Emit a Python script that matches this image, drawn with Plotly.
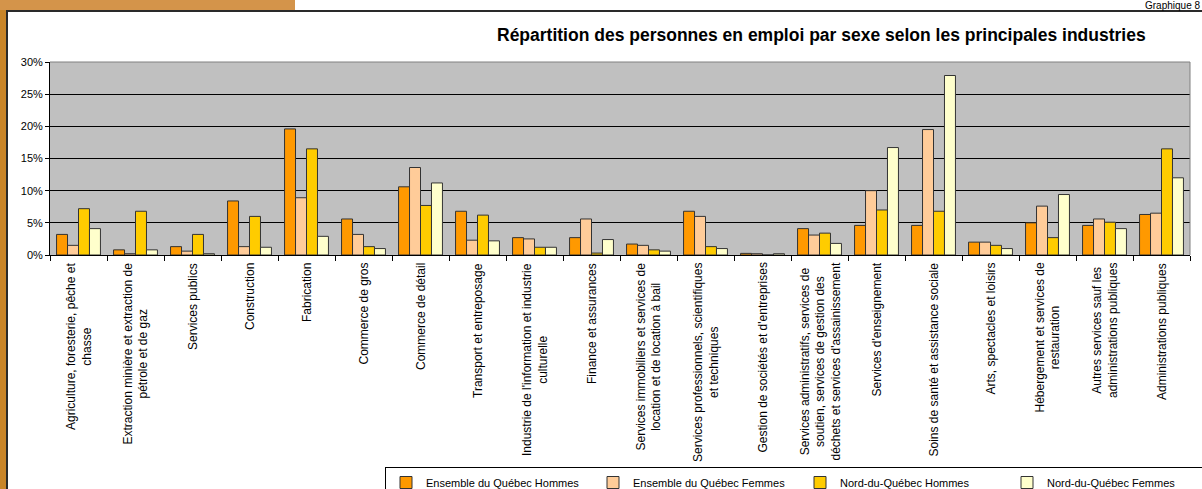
import plotly.graph_objects as go

categories = [
    "Agriculture, foresterie, pêche et<br>chasse",
    "Extraction minière et extraction de<br>pétrole et de gaz",
    "Services publics",
    "Construction",
    "Fabrication",
    "Commerce de gros",
    "Commerce de détail",
    "Transport et entreposage",
    "Industrie de l'information et industrie<br>culturelle",
    "Finance et assurances",
    "Services immobiliers et services de<br>location et de location à bail",
    "Services professionnels, scientifiques<br>et techniques",
    "Gestion de sociétés et d'entreprises",
    "Services administratifs, services de<br>soutien, services de gestion des<br>déchets et services d'assainissement",
    "Services d'enseignement",
    "Soins de santé et assistance sociale",
    "Arts, spectacles et loisirs",
    "Hébergement et services de<br>restauration",
    "Autres services sauf les<br>administrations publiques",
    "Administrations publiques",
]

quebec_hommes = [3.2, 0.8, 1.3, 8.4, 19.6, 5.6, 10.6, 6.8, 2.7, 2.7, 1.7, 6.8, 0.25, 4.1, 4.6, 4.6, 2.0, 5.0, 4.6, 6.3]
quebec_femmes = [1.5, 0.2, 0.6, 1.3, 8.9, 3.2, 13.6, 2.3, 2.5, 5.6, 1.5, 6.0, 0.2, 3.1, 10.0, 19.5, 2.0, 7.6, 5.6, 6.5]
nord_hommes = [7.2, 6.8, 3.2, 6.0, 16.5, 1.3, 7.7, 6.2, 1.2, 0.3, 0.8, 1.3, 0.0, 3.4, 7.0, 6.8, 1.5, 2.7, 5.1, 16.5]
nord_femmes = [4.1, 0.8, 0.2, 1.2, 2.9, 1.0, 11.2, 2.2, 1.2, 2.4, 0.6, 1.0, 0.2, 1.8, 16.7, 27.9, 1.0, 9.4, 4.1, 12.0]

series_names = ["Ensemble du Québec Hommes", "Ensemble du Québec Femmes",
                "Nord-du-Québec Hommes", "Nord-du-Québec Femmes"]
series_values = [quebec_hommes, quebec_femmes, nord_hommes, nord_femmes]
series_colors = ["#FF9900", "#FFCC99", "#FFCC00", "#FFFFCC"]

y_ticks = [0, 5, 10, 15, 20, 25, 30]
y_tick_labels = ["0%", "5%", "10%", "15%", "20%", "25%", "30%"]

FONT = "Arial, Liberation Sans, sans-serif"

fig = go.Figure()
for name, vals, col in zip(series_names, series_values, series_colors):
    fig.add_trace(go.Bar(
        x=categories, y=vals, name=name,
        marker=dict(color=col, line=dict(color="#333333", width=1)),
    ))

W, H = 1202, 489
ml, mr, mt, mb = 50, 12, 62, 234


def px_x(p):
    return (p - ml) / (W - ml - mr)


def px_y(p):
    return (H - mb - p) / (H - mt - mb)


fig.update_layout(
    width=W, height=H,
    margin=dict(l=ml, r=mr, t=mt, b=mb, pad=0, autoexpand=False),
    paper_bgcolor="white",
    plot_bgcolor="#C0C0C0",
    barmode="group",
    bargap=0.23,
    bargroupgap=0,
    font=dict(family=FONT, size=11, color="black"),
    showlegend=True,
    legend=dict(
        orientation="h",
        x=px_x(385), xanchor="left",
        y=px_y(467), yanchor="top",
        bgcolor="white", bordercolor="black", borderwidth=1,
        font=dict(family=FONT, size=11, color="black"),
        entrywidth=162, entrywidthmode="pixels",
        itemwidth=30,
        traceorder="normal",
    ),
)

fig.add_annotation(
    x=px_x(821), xref="paper", y=px_y(35), yref="paper",
    xanchor="center", yanchor="middle", showarrow=False,
    text="<b>Répartition des personnes en emploi par sexe selon les principales industries</b>",
    font=dict(family=FONT, size=17.5, color="black"),
)

fig.update_xaxes(
    type="category",
    showticklabels=False,
    ticks="outside", ticklen=5, tickcolor="black",
    tickson="boundaries",
    showline=True, linecolor="black", linewidth=1,
    showgrid=False,
)
fig.update_yaxes(
    range=[0, 30],
    tickvals=y_ticks, ticktext=y_tick_labels,
    ticks="outside", ticklen=4, tickcolor="black",
    showline=True, linecolor="black", linewidth=1,
    showgrid=True, gridcolor="black", gridwidth=1,
    zeroline=False,
    tickfont=dict(family=FONT, size=11, color="black"),
)

# Category labels, rotated and centred like the original
for cat in categories:
    fig.add_annotation(
        x=cat, xref="x", y=0, yref="paper",
        yanchor="top", xanchor="center", yshift=-6,
        text=cat, textangle=-90, showarrow=False, align="center",
        font=dict(family=FONT, size=12, color="black"),
    )

# Gray border top/right of plot area
fig.add_shape(type="line", xref="paper", yref="paper", x0=0, x1=1, y0=1, y1=1,
              line=dict(color="#808080", width=1), layer="above")
fig.add_shape(type="line", xref="paper", yref="paper", x0=1, x1=1, y0=0, y1=1,
              line=dict(color="#808080", width=1), layer="above")

# Decorative page frame
fig.add_shape(type="rect", xref="paper", yref="paper",
              x0=px_x(0), x1=px_x(6), y0=px_y(H), y1=px_y(0),
              fillcolor="#C98528", line=dict(width=0), layer="above")
fig.add_shape(type="rect", xref="paper", yref="paper",
              x0=px_x(0), x1=px_x(295), y0=px_y(10), y1=px_y(0),
              fillcolor="#D4944A", line=dict(width=0), layer="above")
fig.add_shape(type="line", xref="paper", yref="paper",
              x0=px_x(7), x1=px_x(7), y0=px_y(H), y1=px_y(10),
              line=dict(color="#2A2A2A", width=2), layer="above")
fig.add_shape(type="line", xref="paper", yref="paper",
              x0=px_x(6), x1=px_x(W), y0=px_y(11), y1=px_y(11),
              line=dict(color="#2A2A2A", width=2), layer="above")
fig.add_annotation(
    x=px_x(1201), xref="paper", y=px_y(-1), yref="paper",
    xanchor="right", yanchor="top", showarrow=False,
    text="Graphique 8", font=dict(family=FONT, size=10, color="black"),
    borderpad=0,
)

fig.write_html(
    "out.html",
    config={"displayModeBar": False},
    post_script="document.body.style.margin='0px';document.body.style.overflow='hidden';",
)
